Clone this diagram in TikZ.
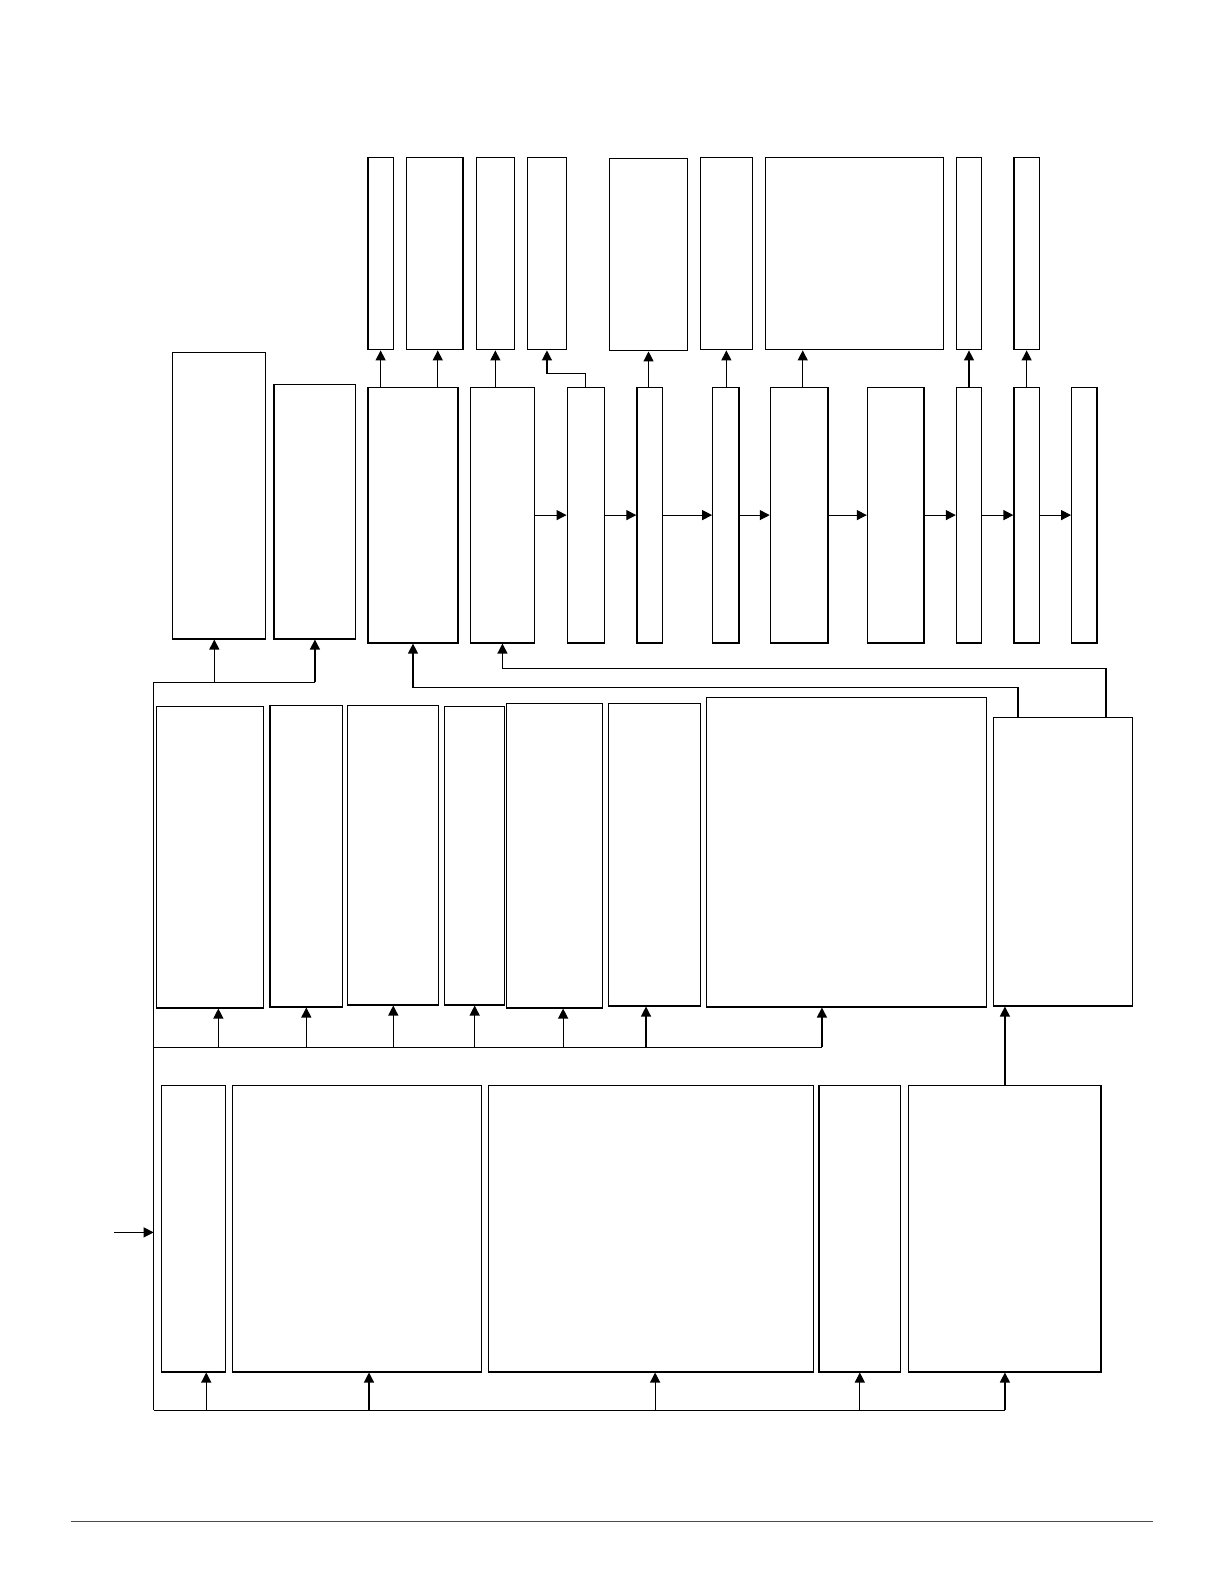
\documentclass[tikz,border=0pt]{standalone}
\usepackage{tikz}
\usetikzlibrary{arrows.meta,positioning,calc,fit}

\begin{document}
\begin{tikzpicture}[
    x=0.5055pt, y=-0.5055pt,
    box/.style={rectangle, draw, inner sep=0pt, line width=0.6pt},
    arrow/.style={-{Triangle[length=5pt,width=5pt]}, line width=0.6pt},
    wire/.style={line width=0.6pt}
]
\fill[white] (0,0) rectangle (1210.7,1566.8);
\useasboundingbox (0,0) rectangle (1210.7,1566.8);

% Top row
\node[box, fit={(364,156)(389,346)}] (t1) {};
\node[box, fit={(402,156)(458,346)}] (t2) {};
\node[box, fit={(471,156)(509,346)}] (t3) {};
\node[box, fit={(522,156)(560,346)}] (t4) {};
\node[box, fit={(603,157)(680,347)}] (t5) {};
\node[box, fit={(693,156)(744,346)}] (t6) {};
\node[box, fit={(757,156)(933,346)}] (t7) {};
\node[box, fit={(946,156)(971,346)}] (t8) {};
\node[box, fit={(1003,156)(1028,346)}] (t9) {};

% Second row
\node[box, fit={(171,349)(263,632)}] (l1) {};
\node[box, fit={(271,380)(352,632)}] (l2) {};
\node[box, fit={(364,383)(453,636)}] (m1) {};
\node[box, fit={(465,383)(529,636)}] (m2) {};
\node[box, fit={(561,383)(598,636)}] (m3) {};
\node[box, fit={(630,383)(655,636)}] (m4) {};
\node[box, fit={(705,383)(731,636)}] (m5) {};
\node[box, fit={(762,383)(819,636)}] (m6) {};
\node[box, fit={(858,383)(914,636)}] (m7) {};
\node[box, fit={(946,383)(971,636)}] (m8) {};
\node[box, fit={(1003,383)(1028,636)}] (m9) {};
\node[box, fit={(1060,383)(1085,636)}] (m10) {};

% Third row
\node[box, fit={(155,699)(261,997)}] (b1) {};
\node[box, fit={(267,698)(339,996)}] (b2) {};
\node[box, fit={(344,698)(434,994)}] (b3) {};
\node[box, fit={(440,699)(499,994)}] (b4) {};
\node[box, fit={(501,696)(596,997)}] (b5) {};
\node[box, fit={(602,696)(693,995)}] (b6) {};
\node[box, fit={(699,690)(976,996)}] (b7) {};
\node[box, fit={(983,710)(1120,995)}] (r) {};

% Bottom row
\node[box, fit={(160,1074)(223,1357)}] (c1) {};
\node[box, fit={(230,1074)(476,1357)}] (c2) {};
\node[box, fit={(483,1074)(805,1357)}] (c3) {};
\node[box, fit={(810,1074)(891,1357)}] (c4) {};
\node[box, fit={(899,1074)(1089,1357)}] (c5) {};

% Bus points
\coordinate (in) at (113,1219);
\coordinate (bustop) at (152,675);
\coordinate (busmid) at (152,1036);
\coordinate (busbot) at (152,1395);
\coordinate (sl1) at (212,675);
\coordinate (sb1) at (216,1036);
\coordinate (sb5) at (557,1036);
\coordinate (sb6) at (639,1036);
\coordinate (sb7) at (813,1036);
\coordinate (sc1) at (204,1395);
\coordinate (sc2) at (365,1395);
\coordinate (sc3) at (648,1395);

% Input and buses
\draw[arrow] (in) -- (in -| busbot);
\draw[wire] (bustop) -- (busbot);
\draw[wire] (bustop) -- (bustop -| l2.south);
\draw[wire] (busmid) -- (sb7);
\draw[wire] (busbot) -- (busbot -| c5.south);

% Bus to boxes
\draw[arrow] (sl1) -- (sl1 |- l1.south);
\draw[arrow] (bustop -| l2.south) -- (l2.south);
\foreach \n in {b2,b3,b4}
    \draw[arrow] (busmid -| \n.south) -- (\n.south);
\foreach \s/\n in {sb1/b1,sb5/b5,sb6/b6,sb7/b7}
    \draw[arrow] (\s) -- (\s |- \n.south);
\foreach \s/\n in {sc1/c1,sc2/c2,sc3/c3}
    \draw[arrow] (\s) -- (\s |- \n.south);
\foreach \n in {c4,c5}
    \draw[arrow] (busbot -| \n.south) -- (\n.south);
\draw[arrow] (c5.north) -- (c5.north |- r.south);

% Feedback from r
\draw[arrow] ($(r.north)+(-44.5,0)$) -- ++(0,-29) -| (m1.south);
\draw[arrow] ($(r.north)+(42.5,0)$) -- ++(0,-48) -| (m2.south);

% Chain
\foreach \a/\b in {m2/m3,m3/m4,m4/m5,m5/m6,m6/m7,m7/m8,m8/m9,m9/m10}
    \draw[arrow] (\a) -- (\b);

% Up to top row
\foreach \a/\b in {m1/t1,m2/t3,m4/t5,m5/t6,m8/t8,m9/t9}
    \draw[arrow] (\b.south |- \a.north) -- (\b.south);
\draw[arrow] ($(m1.north)+(24.5,0)$) -- ($(m1.north |- t2.south)+(24.5,0)$);
\draw[arrow] (m3.north) -- ++(0,-13) -| (t4.south);
\draw[arrow] ($(m6.north)+(3.5,0)$) -- ($(m6.north |- t7.south)+(3.5,0)$);

% Page rule
\draw[black!70, line width=0.7pt] (70,1505) -- (1140,1505);

\end{tikzpicture}
\end{document}
